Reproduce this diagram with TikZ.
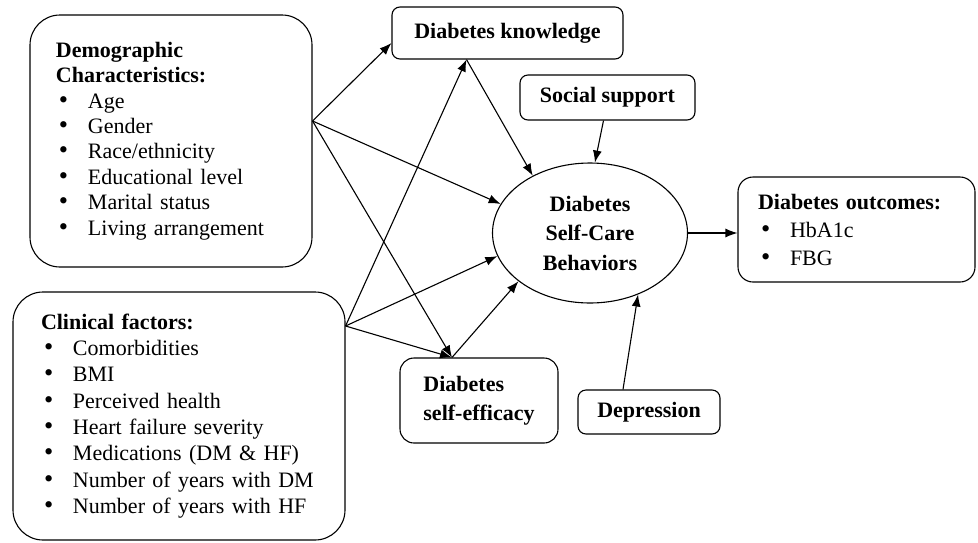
\documentclass[tikz,border=0pt]{standalone}
\usepackage{fontspec}
\setmainfont{Liberation Serif}
\usetikzlibrary{arrows.meta,shapes.geometric}
\newcommand\bitm{\leavevmode\hbox to 32pt{\hspace{3pt}\raisebox{0pt}[0pt][0pt]{\scalebox{1.2}{\textbullet}}\hfil}}
\tikzset{
  boxr/.style={draw, line width=1.1pt, rounded corners=#1, inner sep=0pt, align=left},
  arr/.style={line width=1.1pt, -{Latex[length=12pt,width=9pt]}},
  txt/.style={font=\fontsize{22}{25.4}\selectfont}
}
\begin{document}
\begin{tikzpicture}[x=1pt,y=-1pt]
\useasboundingbox (0,0) rectangle (978,542);

\node[boxr=30pt, txt, text width=230pt, inner xsep=26pt, minimum height=252pt] (demo) at (171,141)
 {\textbf{Demographic}\\ \textbf{Characteristics:}\\ \bitm Age\\ \bitm Gender\\ \bitm Race/ethnicity\\ \bitm Educational level\\ \bitm Marital status\\ \bitm \mbox{Living arrangement}};

\node[boxr=30pt, font=\fontsize{22}{26.3}\selectfont, text width=276pt, inner xsep=28pt, minimum height=248pt] (clin) at (179,416)
 {\textbf{Clinical factors:}\\ \bitm Comorbidities\\ \bitm BMI\\ \bitm Perceived health\\ \bitm \mbox{Heart failure severity}\\ \bitm \mbox{Medications (DM \& HF)}\\ \bitm \mbox{Number of years with DM}\\ \bitm \mbox{Number of years with HF}};

\node[boxr=8pt, txt, minimum width=231pt, minimum height=52pt, align=center] (know) at (507.5,33) {\textbf{Diabetes knowledge}};
\node[boxr=8pt, txt, minimum width=175pt, minimum height=45pt, align=center] (soc) at (607.5,97.5) {\textbf{Social support}};
\node[boxr=14pt, font=\fontsize{22}{29}\selectfont, minimum width=158pt, minimum height=85pt] (seff) at (479,400.5) {\textbf{Diabetes}\\ \textbf{self-efficacy}};
\node[boxr=8pt, txt, minimum width=142pt, minimum height=44pt, align=center] (dep) at (649,412) {\textbf{Depression}};
\node[boxr=15pt, font=\fontsize{22}{28}\selectfont, text width=197pt, inner xsep=20pt, minimum height=105pt] (outc) at (856.5,229.5)
 {\textbf{Diabetes outcomes:}\\ \bitm HbA1c\\ \bitm FBG};

\node[draw, ellipse, line width=1.1pt, inner sep=0pt, minimum width=195pt, minimum height=140pt, align=center, font=\fontsize{22}{29.5}\selectfont] (dscb) at (590,233)
 {\textbf{Diabetes}\\ \textbf{Self-Care}\\ \textbf{Behaviors}};

\coordinate (dout) at ([yshift=20pt]demo.east);
\coordinate (cout) at ([yshift=90pt]clin.east);
\coordinate (kin) at ([yshift=-10pt]know.west);
\coordinate (kbot) at ([xshift=-41pt]know.south);
\coordinate (stop) at ([xshift=-27pt]seff.north);

\draw[arr] (dout) -- (kin);
\draw[arr] (dout) -- (dscb.162.6);
\draw[arr] (dout) -- (stop);
\draw[arr] (cout) -- (kbot);
\draw[arr] (cout) -- (dscb.194.5);
\draw[arr] (cout) -- (stop);
\draw[arr] (kbot) -- (dscb.135);
\draw[arr] ([xshift=-4pt]soc.south) -- (dscb.86);
\draw[arr] (stop) -- (dscb.214);
\draw[arr] ([xshift=-26pt]dep.north) -- (dscb.308);
\draw[arr] (dscb.east) -- (dscb.east -| outc.west);
\end{tikzpicture}
\end{document}
